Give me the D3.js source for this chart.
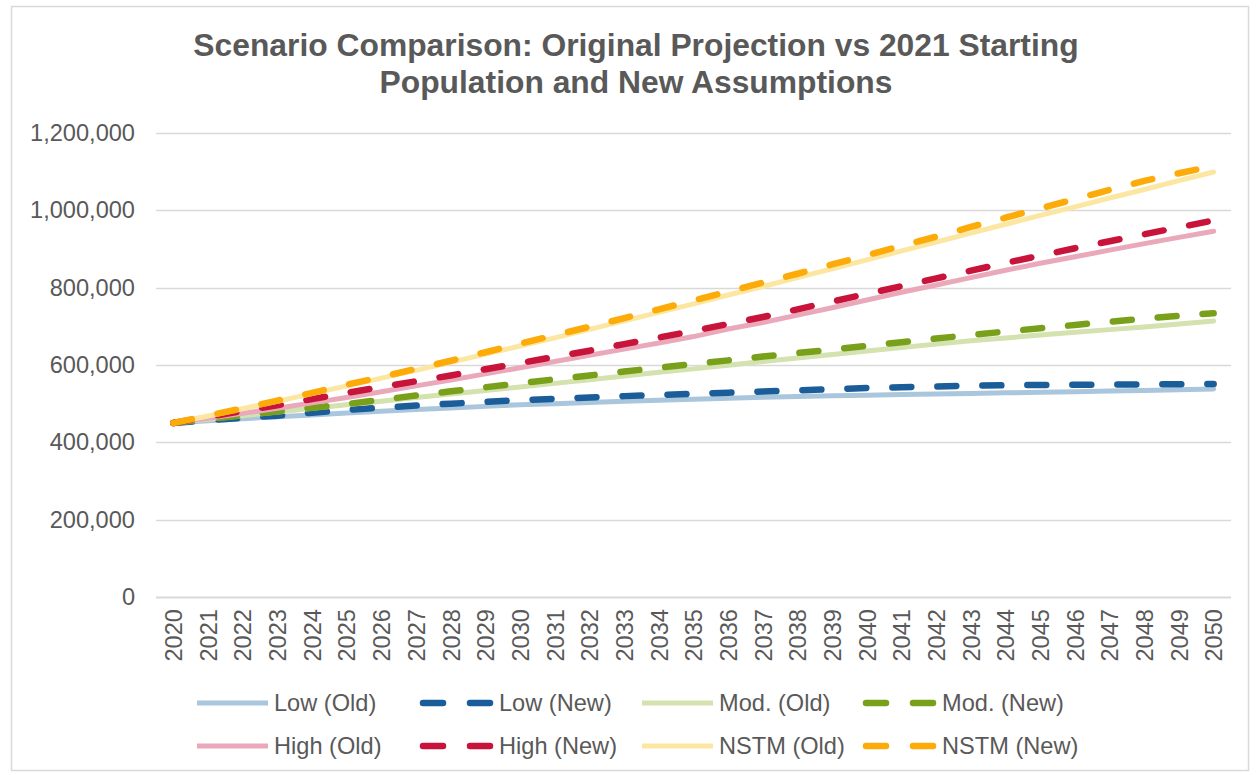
<!DOCTYPE html>
<html>
<head>
<meta charset="utf-8">
<script src="https://cdn.jsdelivr.net/npm/d3@7/dist/d3.min.js"></script>
<style>
  html, body { margin: 0; padding: 0; background: #ffffff; }
  svg { display: block; }
  text { font-family: "Liberation Sans", Arial, sans-serif; fill: #595959; }
</style>
</head>
<body>
<svg id="chart" width="1256" height="775"></svg>
<script>
// Years on the category axis
const years = d3.range(2020, 2051).map(String);

// Population projections by scenario (Old = original projection, New = 2021 start + new assumptions)
const lowOld  = [450000,455500,461000,466000,471000,476000,480500,485000,489000,493000,497000,500000,503000,506000,509000,511500,514000,516500,518500,520500,522000,523500,525000,526500,528000,529500,531000,532500,534000,536000,538000];
const lowNew  = [450000,457000,463000,469000,476500,484000,489500,495000,500000,504500,509000,512500,516000,519500,522500,525500,528500,531500,534500,537500,540500,542500,544500,546500,547500,548500,549000,549500,550000,550500,551000];
const modOld  = [450000,459500,469000,478500,488000,497000,506500,516000,525000,534000,543000,552500,562000,571500,581000,590000,599500,609000,618000,627000,636000,645000,654000,662500,670000,677500,684500,691500,698500,706000,714000];
const modNew  = [450000,460000,470000,480000,489500,499000,510000,521000,532000,542500,553000,563000,573000,583000,593000,602500,612000,622000,631000,640000,649500,659000,668500,677500,686500,695000,703500,712000,720000,727000,734000];
const highOld = [450000,462000,475000,488000,502000,516000,531000,546000,561000,577000,593000,609000,625000,641000,657000,673500,693000,710000,729000,748000,768000,788000,807000,826000,845000,863000,880000,897000,914000,930000,946000];
const highNew = [450000,466000,481000,496000,512000,528000,543000,558000,573000,589000,605000,621000,637000,654000,671000,688000,706000,724000,744000,764000,784000,804000,824000,844000,864000,883000,902000,920000,938000,956000,974000];
const nstmOld = [450000,468000,487000,506000,526000,546000,566000,586000,607000,628000,649000,670000,692000,714000,736000,758000,781000,803000,826000,849000,872000,895000,918000,941000,964000,987000,1009000,1032000,1054000,1077000,1099000];
const nstmNew = [450000,469000,488000,508000,528000,549000,569000,590000,611000,633000,655000,677000,699000,721000,744000,767000,790000,813000,836000,860000,884000,908000,932000,957000,981000,1005000,1029000,1053000,1076000,1096000,1115000];

// Y-axis tick values
const yTicks = [0, 200000, 400000, 600000, 800000, 1000000, 1200000];

const titleLines = [
  "Scenario Comparison: Original Projection vs 2021 Starting",
  "Population and New Assumptions"
];

// Series in drawing order (later series drawn on top)
const series = [
  { name: "Low (Old)",   values: lowOld,  color: "#a9c6dd", dashed: false },
  { name: "Low (New)",   values: lowNew,  color: "#1b5d98", dashed: true  },
  { name: "Mod. (Old)",  values: modOld,  color: "#d3e2ae", dashed: false },
  { name: "Mod. (New)",  values: modNew,  color: "#78a01a", dashed: true  },
  { name: "High (Old)",  values: highOld, color: "#eaa9bb", dashed: false },
  { name: "High (New)",  values: highNew, color: "#c8133a", dashed: true  },
  { name: "NSTM (Old)",  values: nstmOld, color: "#fbe7a2", dashed: false },
  { name: "NSTM (New)",  values: nstmNew, color: "#fcab08", dashed: true  }
];

const labelSize = 23.6;

const svg = d3.select("#chart");

// Outer chart frame
svg.append("rect")
  .attr("x", 11.5).attr("y", 6.5)
  .attr("width", 1237).attr("height", 764)
  .attr("fill", "#ffffff")
  .attr("stroke", "#d9d9d9").attr("stroke-width", 1.5);

// Title
svg.append("g").selectAll("text")
  .data(titleLines)
  .join("text")
  .attr("x", 636)
  .attr("y", (d, i) => 56 + i * 37)
  .attr("text-anchor", "middle")
  .attr("font-size", 31.8)
  .attr("font-weight", "bold")
  .text(d => d);

const plot = { left: 156, right: 1231, top: 133, bottom: 597 };

const x = d3.scalePoint()
  .domain(years)
  .range([plot.left, plot.right])
  .padding(0.5);

const y = d3.scaleLinear()
  .domain([0, 1200000])
  .range([plot.bottom, plot.top]);

// Horizontal gridlines
svg.append("g")
  .selectAll("line")
  .data(yTicks)
  .join("line")
  .attr("x1", plot.left).attr("x2", plot.right)
  .attr("y1", d => Math.round(y(d)) + 0.5)
  .attr("y2", d => Math.round(y(d)) + 0.5)
  .attr("stroke", "#d9d9d9")
  .attr("stroke-width", d => d === 0 ? 2 : 1.5);

// Y axis labels
const yAxis = svg.append("g")
  .attr("transform", `translate(${plot.left},0)`)
  .call(d3.axisLeft(y).tickValues(yTicks).tickFormat(d3.format(",")).tickSize(0).tickPadding(21));
yAxis.select(".domain").remove();
yAxis.selectAll("text")
  .attr("font-size", labelSize)
  .attr("font-family", "'Liberation Sans', Arial, sans-serif")
  .attr("fill", "#595959");

// X axis labels, rotated
const xAxis = svg.append("g")
  .attr("transform", `translate(0,${plot.bottom})`)
  .call(d3.axisBottom(x).tickSize(0).tickPadding(0));
xAxis.select(".domain").remove();
xAxis.selectAll("text")
  .attr("font-size", labelSize)
  .attr("font-family", "'Liberation Sans', Arial, sans-serif")
  .attr("fill", "#595959")
  .attr("text-anchor", "end")
  .attr("transform", "translate(0,12) rotate(-90)")
  .attr("x", 0)
  .attr("y", 0)
  .attr("dy", "0.35em");

// Series lines
const line = d3.line()
  .x((d, i) => x(years[i]))
  .y(d => y(d));

const dashPattern = "19,26";

svg.append("g")
  .selectAll("path")
  .data(series)
  .join("path")
  .attr("d", d => line(d.values))
  .attr("fill", "none")
  .attr("stroke", d => d.color)
  .attr("stroke-width", d => d.dashed ? 6.5 : 5)
  .attr("stroke-linecap", "round")
  .attr("stroke-linejoin", "round")
  .attr("stroke-dasharray", d => d.dashed ? dashPattern : null);

// Legend: Low & Mod on the first row, High & NSTM on the second
const legendCols = [195, 420, 640, 863];
const legendRows = [703, 746];
const legend = svg.append("g")
  .selectAll("g")
  .data(series)
  .join("g")
  .attr("transform", (d, i) => {
    const r = i < 4 ? 0 : 1;
    const c = i % 4;
    return `translate(${legendCols[c]},${legendRows[r]})`;
  });

legend.append("line")
  .attr("x1", d => d.dashed ? 3 : 2)
  .attr("x2", d => d.dashed ? 70 : 73)
  .attr("y1", 0).attr("y2", 0)
  .attr("stroke", d => d.color)
  .attr("stroke-width", d => d.dashed ? 6.5 : 5)
  .attr("stroke-linecap", d => d.dashed ? "round" : "butt")
  .attr("stroke-dasharray", d => d.dashed ? "20,27" : null);

legend.append("text")
  .attr("x", 79)
  .attr("y", 0)
  .attr("dy", "0.35em")
  .attr("font-size", labelSize)
  .text(d => d.name);
</script>
</body>
</html>
